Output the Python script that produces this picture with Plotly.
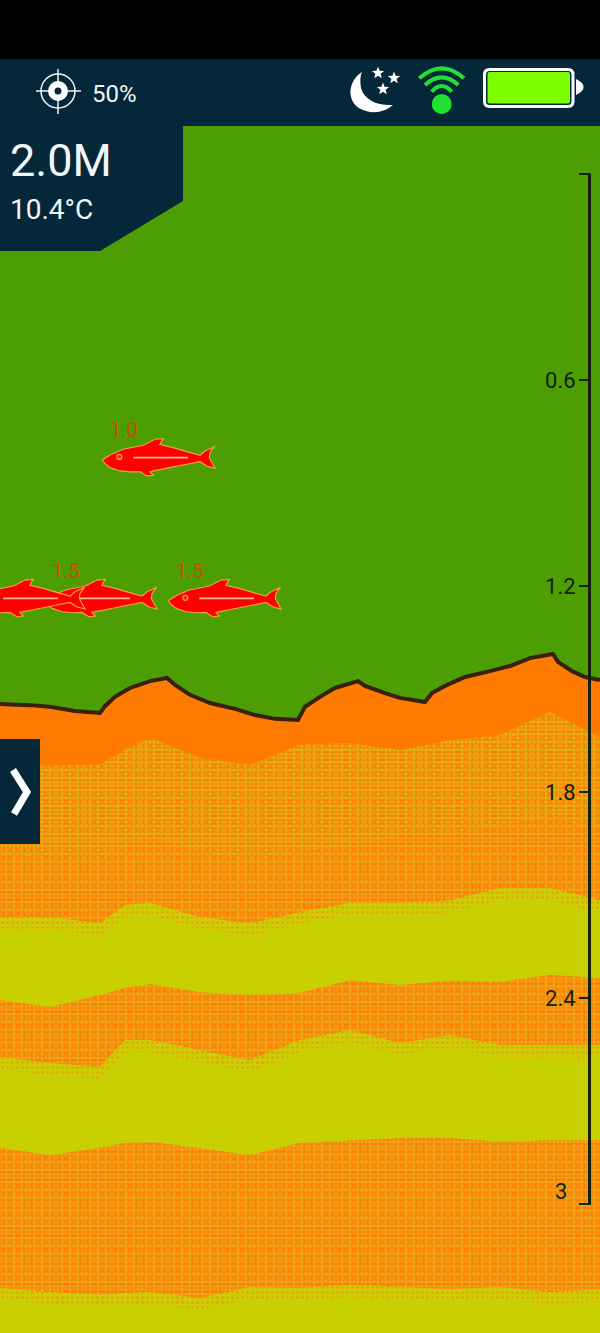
#!/usr/bin/env python3

# Fish finder sonar screen: bottom profile, echo layers and fish targets,
# with the depth scale on the right and the app's status bar on top.

import math
import plotly.graph_objects as go

##### DATA (x = ping column across the screen, depths in metres)

bottom_x = [0, 30, 50, 75, 100, 105, 115, 130, 150, 167, 175, 190, 210, 235, 255, 275, 298,
	300, 305, 320, 335, 358, 365, 385, 400, 425, 432, 445, 465, 490, 510, 530, 553, 558, 572, 585, 600]
bottom_depth = [1.544, 1.547, 1.552, 1.564, 1.570, 1.550, 1.523, 1.497, 1.477, 1.468, 1.488, 1.517, 1.541, 1.558, 1.576, 1.587, 1.590,
	1.579, 1.552, 1.523, 1.497, 1.477, 1.491, 1.512, 1.526, 1.538, 1.512, 1.491, 1.465, 1.448, 1.433, 1.410, 1.398, 1.421, 1.448, 1.465, 1.474]

layer_x = [0, 50, 100, 125, 150, 200, 250, 300, 350, 400, 450, 500, 550, 600]
solid_floor = [1.721, 1.724, 1.721, 1.678, 1.643, 1.701, 1.721, 1.663, 1.657, 1.678, 1.649, 1.634, 1.567, 1.640]
speckle_mid = [1.969, 1.998, 1.998, 1.960, 1.925, 1.969, 1.998, 1.969, 1.954, 1.925, 1.925, 1.896, 1.867, 1.911]
speckle_floor = [2.164, 2.164, 2.182, 2.129, 2.123, 2.164, 2.182, 2.150, 2.123, 2.123, 2.115, 2.080, 2.080, 2.115]
band2_top = [2.406, 2.426, 2.391, 2.371, 2.359, 2.383, 2.391, 2.385, 2.348, 2.362, 2.350, 2.353, 2.333, 2.342]
band2_floor = [2.572, 2.589, 2.601, 2.522, 2.522, 2.551, 2.581, 2.522, 2.493, 2.531, 2.508, 2.537, 2.537, 2.537]
band3_top = [2.837, 2.857, 2.837, 2.822, 2.819, 2.837, 2.857, 2.822, 2.814, 2.808, 2.808, 2.819, 2.814, 2.814]
band3_floor = [3.245, 3.256, 3.265, 3.259, 3.256, 3.274, 3.242, 3.245, 3.236, 3.242, 3.248, 3.242, 3.256, 3.248]

# drawn in this order, the cut-off fish lies over its neighbour
fish_x = [159, 101, 225, 29]
fish_depth = [0.830, 1.240, 1.240, 1.240]
fish_labels = ["1.0", "1.5", "1.5", ""]

depth_ticks = [0, 0.6, 1.2, 1.8, 2.4, 3]
depth_labels = ["", "0.6", "1.2", "1.8", "2.4", ""]
last_depth_label = "3"

##### STYLE AND SCREEN GEOMETRY

W, H = 600, 1333
TOP_PX, PX_PER_M = 174, 343.33

GREEN = "#4c9e02"
NAVY = "#04283a"
ORANGE = "#ff7a00"
YELLOW = "#c8d002"
INK = "#14200c"
CLEAR = "rgba(0,0,0,0)"
FONT = "Roboto"
AXIS_PAD = 1.5 / PX_PER_M  # keeps the end ticks inside the axis, plotly drops them otherwise

# outline of the fish icon, pixels from its centre
FISH = [(-56.7, 1), (-49, -4), (-35.7, -9.7), (-15.7, -13.7), (-10.7, -16.3), (-4, -19.7), (4.3, -20.3), (1.7, -16.3),
	(1, -14.3), (14.3, -11.3), (27.7, -7.3), (41, -3.7), (46, -8), (55, -12), (51, -6.3), (50.3, -1.3), (56, 9.3),
	(47.7, 7), (41, 2.7), (27.7, 5.3), (14.3, 8), (-9, 12.7), (-5.7, 16.3), (-12.3, 17), (-19, 12.7), (-29, 13),
	(-39, 12), (-49, 8.7), (-54, 4.7)]


def to_depth(py):
	return (py - TOP_PX) / PX_PER_M


def band(xs, top, floor, pattern=None, color=None, floor_x=None):
	"""Filled region between two depth profiles."""
	floor_x = floor_x or xs
	return go.Scatter(x=xs + floor_x[::-1], y=top + floor[::-1], mode="lines", line=dict(width=0),
		fill="toself", fillcolor=color, fillpattern=pattern, hoverinfo="skip", showlegend=False)


def dots(fg, bg, size, solidity, shape="."):
	return dict(shape=shape, fgcolor=fg, bgcolor=bg, size=size, solidity=solidity, fillmode="replace")


def echo_band(top, floor, pale="#e4b020"):
	"""Speckled band: two dot grids of different pitch, with a sparse fringe under its floor."""
	fringe = [d + 12 / PX_PER_M for d in floor]
	return [
		band(layer_x, floor, fringe, pattern=dots("#ee9c12", CLEAR, 5, 0.22)),
		band(layer_x, top, floor, pattern=dots(pale, "#ff8002", 4, 0.56)),
		band(layer_x, top, floor, pattern=dots("#ff8002", CLEAR, 7, 0.28)),
	]


def px_shape(path, fill=CLEAR, line=None, width=0):
	return dict(type="path", path=path, xref="x", yref="y3", fillcolor=fill,
		line=dict(color=line or CLEAR, width=width))


def px_circle(cx, cy, r, fill=CLEAR, line=None, width=0):
	return dict(type="circle", xref="x", yref="y3", x0=cx - r, x1=cx + r, y0=cy - r, y1=cy + r, fillcolor=fill,
		line=dict(color=line or CLEAR, width=width))


def px_rect(x0, y0, x1, y1, fill):
	return dict(type="rect", xref="x", yref="y3", x0=x0, x1=x1, y0=y0, y1=y1, fillcolor=fill, line=dict(width=0))


def round_rect(x0, y0, x1, y1, r):
	return (f"M{x0 + r},{y0} L{x1 - r},{y0} Q{x1},{y0} {x1},{y0 + r} L{x1},{y1 - r} Q{x1},{y1} {x1 - r},{y1} "
		f"L{x0 + r},{y1} Q{x0},{y1} {x0},{y1 - r} L{x0},{y0 + r} Q{x0},{y0} {x0 + r},{y0} Z")


def star(cx, cy, r):
	pts = []
	for i in range(10):
		a = -math.pi / 2 + i * math.pi / 5
		rr = r if i % 2 == 0 else r * 0.42
		pts.append(f"{cx + rr * math.cos(a):.1f},{cy + rr * math.sin(a):.1f}")
	return "M" + " L".join(pts) + " Z"


def fish_shapes(cx, depth):
	"""Fish icon placed at a ping column and a depth."""
	cy = TOP_PX + depth * PX_PER_M
	body = "M" + " L".join(f"{cx + dx},{cy + dy}" for dx, dy in FISH) + " Z"
	return [
		px_shape(body, fill="#ff0000", line="#f0a23c", width=1.2),
		px_shape(f"M{cx - 25.7},{cy - 1.3} L{cx + 29},{cy - 1.3}", line="#ffb4a0", width=1.8),
		px_circle(cx - 39.7, cy - 2, 2.5, fill="#e83010", line="#f0a23c", width=1.2),
	]


##### FIGURE

fig = go.Figure()

page_floor = to_depth(H)

# echo layers, from the whole seabed down to the single bands
fig.add_trace(band(bottom_x, bottom_depth, [page_floor] * len(bottom_x), color=YELLOW))
for trace in echo_band(speckle_mid, speckle_floor):
	fig.add_trace(trace)
fig.add_trace(band(layer_x, solid_floor, speckle_mid, pattern=dots("#dcb818", "#fb8204", 4, 0.58)))
fig.add_trace(band(layer_x, solid_floor, speckle_mid, pattern=dots("#fb8204", CLEAR, 7, 0.24)))
fig.add_trace(band(bottom_x, bottom_depth, solid_floor, color=ORANGE, floor_x=layer_x))
for top, floor in [(band2_top, band2_floor), (band3_top, band3_floor)]:
	for trace in echo_band(top, floor):
		fig.add_trace(trace)

# bottom contour
fig.add_trace(go.Scatter(x=bottom_x, y=bottom_depth, mode="lines", line=dict(color="#3a2012", width=4),
	hoverinfo="skip", showlegend=False))

# fish depth labels
fig.add_trace(go.Scatter(x=[x - 35 for x in fish_x], y=[d - 27 / PX_PER_M for d in fish_depth], mode="text",
	text=fish_labels, textfont=dict(family=FONT, size=20, color="#cc4a08"), hoverinfo="skip", showlegend=False))

# depth scale and pixel layer for the app chrome
fig.add_trace(go.Scatter(x=[589] * len(depth_ticks), y=depth_ticks, yaxis="y2", mode="markers",
	marker=dict(opacity=0), hoverinfo="skip", showlegend=False))
fig.add_trace(go.Scatter(x=[0], y=[0], yaxis="y3", mode="markers", marker=dict(opacity=0),
	hoverinfo="skip", showlegend=False))

shapes = []
for x, d in zip(fish_x, fish_depth):
	shapes += fish_shapes(x, d)

# status bar and info panel
shapes += [
	px_rect(0, 0, W, 59, "#000000"),
	px_rect(0, 59, W, 126, NAVY),
	px_shape("M0,126 L183,126 L183,201 L100,251 L0,251 Z", fill=NAVY),
	px_rect(0, 739, 40, 844, NAVY),
	px_shape("M13,770 L27,792 L14,814", line="#ffffff", width=7),
]

# target icon
shapes += [
	px_circle(58, 91, 17, line="#eef4f4", width=1.5),
	px_shape("M36,91 L81,91", line="#eef4f4", width=1.5),
	px_shape("M58,69 L58,114", line="#eef4f4", width=1.5),
	px_circle(58, 91, 10, fill="#ffffff"),
	px_circle(58, 91, 3.5, fill=NAVY),
]

# night mode icon
shapes += [
	px_shape("M362,72 C346,82 346,106 366,111 C376,114 386,111 393,105 C378,106 364,100 361,88 C360,82 360,76 362,72 Z", fill="#ffffff"),
	px_shape(star(378, 73, 6.5), fill="#ffffff"),
	px_shape(star(394, 78, 6.5), fill="#ffffff"),
	px_shape(star(383, 89, 6.5), fill="#ffffff"),
]

# wifi icon
WIFI = "#22e032"
shapes += [
	px_circle(441.7, 104, 10, fill=WIFI),
	px_shape("M419.3,78.3 Q441.7,58.3 464,78.3", line=WIFI, width=4),
	px_shape("M425,85 Q441.7,69.7 458.3,85", line=WIFI, width=4),
	px_shape("M431.7,91.7 Q441.7,80.3 451.7,91.7", line=WIFI, width=4),
]

# battery icon
shapes += [
	px_shape(round_rect(484.5, 69.5, 573, 106.5, 5), fill=NAVY, line="#ffffff", width=3),
	px_shape(round_rect(487.5, 72, 570, 103.5, 2), fill="#7cff00"),
	px_shape("M576,79 Q584,83 583.5,87 Q584,91 576,95 Z", fill="#ffffff"),
]

annotations = []
for text, x, y, size in [("50%", 90, 94, 24), ("2.0M", 7.5, 160, 45), ("10.4°C", 7.5, 209, 28)]:
	annotations.append(dict(text=text, x=x, y=y, xref="x", yref="y3", xanchor="left", yanchor="middle",
		showarrow=False, font=dict(family=FONT, size=size, color="#f2f6f6")))

# the last depth label sits above its tick, the scale would clip it
annotations.append(dict(text=last_depth_label, x=569, y=depth_ticks[-1], xref="x", yref="y2", xanchor="right",
	yanchor="middle", yshift=12, showarrow=False, font=dict(family=FONT, size=22, color=INK)))

axis_top = TOP_PX - 1.5
axis_floor = TOP_PX + depth_ticks[-1] * PX_PER_M + 1.5

fig.update_layout(
	width=W, height=H, autosize=False,
	margin=dict(l=0, r=0, t=0, b=0, pad=0),
	plot_bgcolor=CLEAR, paper_bgcolor=GREEN,
	showlegend=False, hovermode=False,
	shapes=shapes, annotations=annotations,
	xaxis=dict(range=[0, W], domain=[0, 1], visible=False, fixedrange=True),
	yaxis=dict(range=[page_floor, to_depth(0)], domain=[0, 1], visible=False, fixedrange=True),
	yaxis2=dict(
		domain=[(H - axis_floor) / H, (H - axis_top) / H], range=[depth_ticks[-1] + AXIS_PAD, -AXIS_PAD],
		anchor="free", position=589 / W, side="right",
		tickvals=depth_ticks, ticktext=depth_labels, ticks="inside", ticklen=9, tickwidth=2, tickcolor=INK,
		ticklabelposition="inside", ticklabelstandoff=5, showline=True, linecolor=INK, linewidth=2.5,
		showgrid=False, zeroline=False, fixedrange=True,
		tickfont=dict(family=FONT, size=22, color=INK),
	),
	yaxis3=dict(range=[H, 0], overlaying="y", visible=False, fixedrange=True),
)

fig.write_html("out.html", config=dict(displayModeBar=False), post_script="document.body.style.margin='0';")
